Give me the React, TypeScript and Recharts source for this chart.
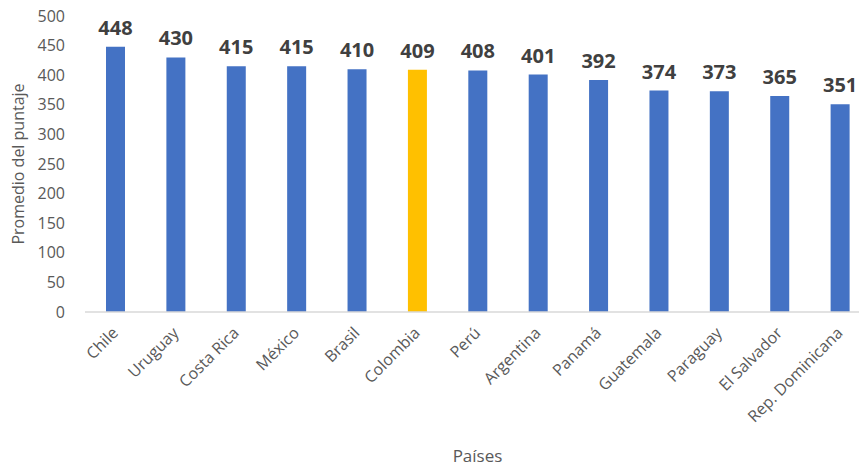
import React from 'react';
import { BarChart, Bar, XAxis, YAxis, Cell, LabelList } from 'recharts';

const countries = [
  'Chile', 'Uruguay', 'Costa Rica', 'México', 'Brasil', 'Colombia', 'Perú',
  'Argentina', 'Panamá', 'Guatemala', 'Paraguay', 'El Salvador', 'Rep. Dominicana',
];
const scores = [448, 430, 415, 415, 410, 409, 408, 401, 392, 374, 373, 365, 351];
const yTicks = [0, 50, 100, 150, 200, 250, 300, 350, 400, 450, 500];
const highlighted = 'Colombia';

const data = countries.map((name, i) => ({ name, score: scores[i] }));

const FONT = '"Open Sans", sans-serif';
const BLUE = '#4472C4';
const GOLD = '#FFC000';
const TEXT = '#595959';

const CountryTick = (props: any) => {
  const { x, y, payload } = props;
  const px = x + 4;
  const py = y + 20;
  return (
    <text
      x={px}
      y={py}
      transform={`rotate(-45, ${px}, ${py})`}
      textAnchor="end"
      fontSize={16}
      fontFamily={FONT}
      fill={TEXT}
    >
      {payload.value}
    </text>
  );
};

const YTitle = (props: any) => {
  const { viewBox } = props;
  const cx = 18;
  const cy = viewBox.y + viewBox.height / 2;
  return (
    <text
      x={cx}
      y={cy}
      transform={`rotate(-90, ${cx}, ${cy})`}
      textAnchor="middle"
      dominantBaseline="central"
      fontSize={16}
      fontFamily={FONT}
      fill={TEXT}
    >
      Promedio del puntaje
    </text>
  );
};

export default function App() {
  return (
    <div
      style={{
        position: 'absolute',
        left: 0,
        top: 0,
        width: 859,
        height: 470,
        overflow: 'hidden',
        background: '#fff',
      }}
    >
      <BarChart
        width={880}
        height={470}
        data={data}
        margin={{ top: 16, right: 10, bottom: 0, left: 0 }}
        barSize={19}
      >
        <XAxis
          dataKey="name"
          interval={0}
          height={158}
          tickLine={false}
          tickSize={0}
          axisLine={{ stroke: '#D9D9D9', strokeWidth: 1.5 }}
          tick={<CountryTick />}
          label={{
            value: 'Países',
            position: 'insideBottom',
            offset: 8,
            fontSize: 17,
            fontFamily: FONT,
            fill: TEXT,
          }}
        />
        <YAxis
          width={85}
          domain={[0, 500]}
          ticks={yTicks}
          interval={0}
          axisLine={false}
          tickLine={false}
          tickSize={0}
          tickMargin={20}
          tick={{ fontSize: 16, fontFamily: FONT, fill: TEXT }}
          label={<YTitle />}
        />
        <Bar dataKey="score" isAnimationActive={false}>
          {data.map((d) => (
            <Cell key={d.name} fill={d.name === highlighted ? GOLD : BLUE} />
          ))}
          <LabelList
            dataKey="score"
            position="top"
            offset={12}
            fontSize={20}
            fontWeight="bold"
            fontFamily={FONT}
            fill="#404040"
          />
        </Bar>
      </BarChart>
    </div>
  );
}
